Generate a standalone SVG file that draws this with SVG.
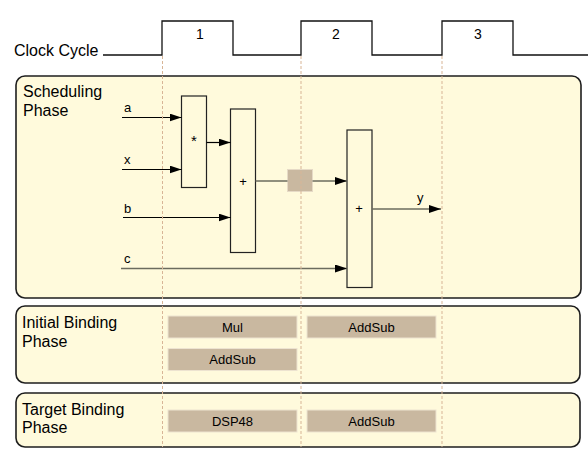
<svg xmlns="http://www.w3.org/2000/svg" width="588" height="456" viewBox="0 0 588 456">
<defs>
<style>
text{font-family:"Liberation Sans",Arial,sans-serif;fill:#000}
.phase{fill:#fffadc;stroke:#1e1e1e;stroke-width:1.6}
.ptxt{font-size:16px}
.op{fill:#fffadc;stroke:#222;stroke-width:1.2}
.res{fill:#c9b8a0;stroke:#ede3d0;stroke-width:1}
.rtxt{font-size:13px;text-anchor:middle}
.sig{font-size:13px}
.sym{font-size:13px;text-anchor:middle}
.blk{stroke:#000;stroke-width:1.2;fill:none}
.gry{stroke:#6b6b5e;stroke-width:1.6;fill:none}
.dash{stroke:#d8b596;stroke-width:1;stroke-dasharray:3,2;fill:none}
</style>
<marker id="ah" viewBox="0 0 12 8" refX="12" refY="4" markerWidth="12" markerHeight="8" markerUnits="userSpaceOnUse" orient="auto">
<path d="M0,0 L12,4 L0,8 Z" fill="#000"/>
</marker>
</defs>
<rect width="588" height="456" fill="#fff"/>

<g id="clock">
<text x="14" y="56" class="ptxt">Clock Cycle</text>
<polyline points="103,55 162,55 162,21 233,21 233,55 301,55 301,21 372,21 372,55 442,55 442,21 513,21 513,55 588,55" fill="none" stroke="#111" stroke-width="1.3"/>
<text x="200" y="39" font-size="14" text-anchor="middle">1</text>
<text x="336" y="39" font-size="14" text-anchor="middle">2</text>
<text x="478" y="39" font-size="14" text-anchor="middle">3</text>
</g>

<g id="scheduling-phase">
<rect x="16" y="76" width="565" height="222" rx="9" class="phase"/>
<text x="23" y="97" class="ptxt">Scheduling</text>
<text x="23" y="116" class="ptxt">Phase</text>
</g>
<g id="initial-binding-phase">
<rect x="16" y="306" width="564" height="77" rx="9" class="phase"/>
<text x="22" y="328" class="ptxt">Initial Binding</text>
<text x="22" y="347" class="ptxt">Phase</text>
</g>
<g id="target-binding-phase">
<rect x="16" y="393" width="564" height="54" rx="9" class="phase"/>
<text x="22" y="415" class="ptxt">Target Binding</text>
<text x="22" y="433" class="ptxt">Phase</text>
</g>

<g id="mul">
<rect x="181.5" y="96" width="25" height="91.5" class="op"/>
<text x="194" y="146" font-size="15" text-anchor="middle">*</text>
</g>
<g id="add1">
<rect x="230.5" y="109" width="25" height="143.5" class="op"/>
<text x="243" y="186" class="sym">+</text>
</g>
<g id="add2">
<rect x="347" y="130" width="25" height="157.5" class="op"/>
<text x="359" y="213" class="sym">+</text>
</g>
<g id="register">
<rect x="287.5" y="169.5" width="25" height="22" fill="#c9b8a0" stroke="#e6dac6" stroke-width="1"/>
</g>

<g id="labels">
<text x="124" y="112" class="sig">a</text>
<text x="124" y="164" class="sig">x</text>
<text x="124" y="213" class="sig">b</text>
<text x="124" y="263" class="sig">c</text>
<text x="417" y="202" class="sig">y</text>
</g>

<g id="connectors">
<line x1="122" y1="117.5" x2="181.5" y2="117.5" class="blk" marker-end="url(#ah)"/>
<line x1="122" y1="169.5" x2="181.5" y2="169.5" class="blk" marker-end="url(#ah)"/>
<line x1="206.5" y1="142.5" x2="230.5" y2="142.5" class="blk" marker-end="url(#ah)"/>
<line x1="123" y1="217.5" x2="230.5" y2="217.5" class="blk" marker-end="url(#ah)"/>
<line x1="255.5" y1="181" x2="287.5" y2="181" class="gry"/>
<line x1="312.5" y1="181" x2="347" y2="181" class="gry" marker-end="url(#ah)"/>
<line x1="121" y1="268.5" x2="347" y2="268.5" class="gry" marker-end="url(#ah)"/>
<line x1="372" y1="209" x2="441" y2="209" class="gry" marker-end="url(#ah)"/>
</g>

<g id="res-mul"><rect x="168" y="316" width="129" height="22" class="res"/><text x="232.5" y="331.5" class="rtxt">Mul</text></g>
<g id="res-addsub1"><rect x="168" y="348.5" width="129" height="22" class="res"/><text x="232.5" y="364" class="rtxt">AddSub</text></g>
<g id="res-addsub2"><rect x="307" y="316" width="129" height="22" class="res"/><text x="371.5" y="331.5" class="rtxt">AddSub</text></g>
<g id="res-dsp48"><rect x="168" y="410" width="129" height="22" class="res"/><text x="232.5" y="425.5" class="rtxt">DSP48</text></g>
<g id="res-addsub3"><rect x="307" y="410" width="129" height="22" class="res"/><text x="371.5" y="425.5" class="rtxt">AddSub</text></g>

<g id="cycle-guides">
<line x1="162.5" y1="56" x2="162.5" y2="447" class="dash"/>
<line x1="301" y1="56" x2="301" y2="447" class="dash"/>
<line x1="442" y1="56" x2="442" y2="447" class="dash"/>
</g>
</svg>
